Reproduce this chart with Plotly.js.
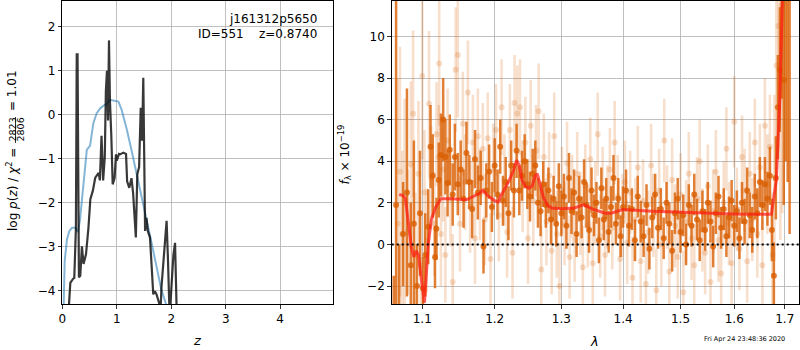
<!DOCTYPE html>
<html><head><meta charset="utf-8">
<script src="https://cdn.plot.ly/plotly-3.0.1.min.js"></script>
<style>html,body{margin:0;padding:0;background:#fff}#c{width:800px;height:350px}</style>
</head><body><div id="c"></div>
<script>
// ---- left panel: p(z) ----
const chiZ = [0.09,0.12,0.147,0.196,0.22,0.25,0.265,0.28,0.29,0.305,0.33,0.36,0.39,0.435,0.48,0.515,0.56,0.605,0.667,0.69,0.72,0.75,0.78,0.80,0.82,0.84,0.857,0.875,0.9,0.925,0.96,0.985,1.0,1.04,1.06,1.12,1.17,1.19,1.23,1.27,1.30,1.334,1.35,1.377,1.41,1.44,1.465,1.487,1.5,1.52,1.545,1.57,1.61,1.64,1.67,1.70,1.73,1.78,1.80,1.82,1.87,1.915,1.94,1.97,2.0,2.04,2.07,2.09,2.11];
const chiLogP = [-5.0,-4.3,-3.83,-3.74,-3.72,-2.58,1.36,1.36,-2.7,-3.7,-3.67,-3.0,-3.4,-3.18,-2.58,-1.93,-1.74,-1.44,-1.33,-1.5,-0.49,-1.5,-0.97,0.53,0.99,-0.14,1.68,0.3,-0.5,-1.59,-1.45,-0.91,-1.05,-0.9,-0.91,-0.87,-0.9,-1.52,-1.67,-1.45,-1.79,-2.65,-2.8,-1.36,-1.2,0.15,-0.6,0.83,-0.7,-2.65,-2.35,-2.65,-2.8,-3.47,-4.09,-4.02,-4.09,-4.3,-4.6,-3.94,-3.2,-2.42,-3.3,-4.6,-4.0,-3.2,-2.92,-3.8,-5.0];
const priorZ = [0.02,0.044,0.086,0.13,0.18,0.24,0.27,0.29,0.325,0.385,0.45,0.51,0.57,0.63,0.69,0.75,0.815,0.875,0.94,1.03,1.09,1.18,1.27,1.365,1.457,1.55,1.64,1.73,1.82,1.90,1.95];
const priorLogP = [-4.6,-3.33,-2.84,-2.65,-2.58,-2.58,-2.65,-2.66,-2.4,-1.65,-0.81,-0.71,-0.2,0.02,0.13,0.19,0.23,0.33,0.31,0.29,0.1,-0.32,-0.81,-1.34,-1.87,-2.4,-2.93,-3.46,-3.99,-4.3,-4.6];
const zTicks = [0,1,2,3,4];
const logpTicks = [-4,-3,-2,-1,0,1,2];

// ---- right panel: spectrum ----
const darkWave = [1.063,1.066,1.070,1.075,1.080,1.085,1.089,1.093,1.097,1.101,1.104,1.108,1.111,1.114,1.117,1.119,1.122,1.125,1.128,1.131,1.134,1.137,1.141,1.144,1.148,1.152,1.156,1.160,1.164,1.168,1.172,1.176,1.180,1.184,1.188,1.192,1.196,1.200,1.204,1.208,1.212,1.216,1.220,1.224,1.228,1.232,1.236,1.240,1.244,1.248,1.252,1.256,1.260,1.264,1.268,1.272,1.276,1.280,1.284,1.288,1.292,1.296,1.300,1.304,1.308,1.312,1.316,1.320,1.324,1.328,1.332,1.336,1.340,1.344,1.348,1.352,1.356,1.360,1.364,1.368,1.372,1.376,1.380,1.384,1.388,1.392,1.396,1.400,1.405,1.410,1.415,1.420,1.425,1.430,1.435,1.440,1.445,1.450,1.455,1.460,1.465,1.470,1.475,1.480,1.485,1.490,1.495,1.500,1.505,1.510,1.515,1.520,1.525,1.530,1.535,1.540,1.545,1.550,1.555,1.560,1.565,1.570,1.575,1.580,1.585,1.590,1.595,1.600,1.605,1.610,1.615,1.620,1.625,1.630,1.635,1.640,1.645,1.650,1.655,1.660,1.665,1.670,1.674,1.678,1.682,1.686,1.690,1.694,1.698,1.702,1.706,1.710];
const darkFlux = [-4,1.9,-3,0.5,2.5,-1.0,1.0,-2.0,1.5,-2.1,-0.5,0.85,4.7,3.3,-0.6,0.75,3.1,4.3,6.0,4.2,2.95,4.55,2.4,4.2,2.9,3.6,2.2,4.4,3.0,1.7,4.1,2.5,3.2,-0.1,2.6,3.5,1.8,3.8,2.4,4.7,2.1,3.0,1.5,3.8,2.6,4.5,2.6,3.3,4.0,2.9,2.3,3.4,3.8,2.0,1.6,2.9,1.9,2.6,1.2,2.2,1.0,2.8,1.5,2.3,0.9,3.2,1.6,2.5,0.5,2.2,1.3,3.0,1.9,0.7,2.6,1.4,2.0,0.2,2.7,1.2,2.2,0.6,1.8,3.2,1.0,2.2,0.4,1.8,2.6,0.9,1.7,0.2,2.3,1.1,0.4,1.9,-0.2,1.3,2.4,0.8,1.7,0.3,2.0,1.0,-0.3,1.5,2.2,0.6,1.4,0.0,1.9,0.9,2.4,1.2,0.2,1.6,0.7,2.0,1.1,-0.1,1.5,2.3,0.8,1.7,0.4,1.3,2.1,0.9,1.6,0.3,2.0,1.1,2.6,1.4,0.7,2.3,1.5,3.0,1.9,2.9,2.2,3.3,0.7,-1.5,3.2,6.6,8.4,12,7.9,12,13,13];
const darkErr = [2.5,15,3,2.5,5,3,4,2,3,1.5,2,1.8,2,2.0,1.5,1.5,1.8,2,2,1.8,1.6,1.7,1.5,1.6,1.5,1.4,1.4,1.5,1.3,1.4,1.4,1.3,1.3,1.3,1.3,1.3,1.2,1.3,1.2,1.3,1.2,1.2,1.3,1.2,1.3,1.3,1.2,1.2,1.3,1.2,1.2,1.2,1.2,1.2,1.2,1.1,1.1,1.1,1.2,1.1,1.1,1.1,1.1,1.1,1.1,1.2,1.1,1.1,1.1,1.1,1.0,1.1,1.1,1.1,1.1,1.0,1.0,1.1,1.0,1.0,1.0,1.0,1.0,1.1,1.0,1.0,1.0,1.0,1.0,1.0,1.0,1.0,1.0,1.0,1.0,1.0,1.0,1.0,1.0,1.0,1.0,1.0,1.0,1.0,1.0,1.0,1.0,1.0,1.0,1.0,1.0,1.0,1.0,1.0,1.0,1.0,1.0,1.0,1.0,1.0,1.0,1.0,1.0,1.0,1.0,1.0,1.0,1.0,1.0,1.0,1.0,1.1,1.1,1.1,1.1,1.1,1.2,1.2,1.2,1.3,1.3,1.4,1.5,1.6,2.0,2.5,3,5,6,8,10,12.5,10,11];

const lightWave = [1.068,1.071,1.074,1.077,1.081,1.085,1.088,1.091,1.095,1.098,1.100,1.103,1.106,1.109,1.112,1.116,1.119,1.122,1.1226,1.125,1.128,1.131,1.134,1.138,1.141,1.145,1.148,1.151,1.155,1.158,1.162,1.165,1.169,1.172,1.176,1.179,1.183,1.186,1.190,1.194,1.198,1.202,1.206,1.210,1.214,1.218,1.222,1.226,1.229,1.233,1.237,1.241,1.245,1.249,1.253,1.257,1.261,1.265,1.269,1.273,1.277,1.281,1.285,1.289,1.293,1.297,1.301,1.305,1.309,1.313,1.317,1.321,1.325,1.330,1.334,1.338,1.342,1.346,1.350,1.354,1.358,1.362,1.366,1.370,1.374,1.378,1.382,1.386,1.391,1.395,1.399,1.403,1.407,1.412,1.416,1.421,1.425,1.430,1.434,1.439,1.443,1.448,1.452,1.457,1.462,1.466,1.471,1.476,1.480,1.485,1.490,1.495,1.500,1.505,1.510,1.515,1.520,1.525,1.530,1.535,1.540,1.545,1.550,1.555,1.560,1.565,1.570,1.575,1.580,1.585,1.590,1.595,1.600,1.605,1.610,1.615,1.620,1.625,1.630,1.635,1.640,1.645,1.650,1.655,1.660,1.665,1.670,1.675,1.679,1.683,1.687,1.691,1.695];
const lightFlux = [1.0,3.5,0.5,2.0,0.6,3.84,6.28,-0.5,3.4,-1.0,8.1,2.5,0.2,6.76,3.2,1.0,5.3,4.2,8.7,0.5,3.6,-0.5,5.0,2.2,-1.8,8.4,9.1,1.0,5.8,3.0,7.3,1.8,4.9,0.3,5.2,2.4,4.6,1.2,5.1,-0.7,3.6,5.5,1.4,6.6,3.1,0.6,5.5,-0.4,6.8,6.3,6.6,2.8,4.9,0.3,5.7,2.1,4.5,6.4,-1.2,4.2,1.1,3.3,-0.3,5.2,0.5,-2.0,2.6,1.0,3.9,-0.6,2.3,0.2,3.4,1.5,-1.1,2.8,0.9,4.1,-0.9,2.0,5.3,0.4,2.7,-0.5,1.8,3.6,0.8,4.9,2.3,-0.7,1.4,3.0,0.1,2.5,-1.6,1.2,3.7,-0.8,2.1,-1.9,0.6,3.8,1.4,-2.2,2.6,0.0,5.0,1.8,-1.3,3.1,0.9,-0.6,2.4,-2.3,1.1,3.4,0.3,-1.0,2.2,4.0,0.7,-0.4,2.8,-1.8,1.6,3.5,0.2,-1.4,2.0,4.6,1.0,-0.9,5.9,1.7,-0.2,4.2,2.6,-0.8,3.4,1.2,4.9,0.5,3.7,-1.0,5.7,2.9,4.7,-0.5,3.2,8.6,10.5,8.2,11.5];
const lightErr = [7,6,4,5,3,4,4,3,3.5,2.5,4,3,2.5,3.5,2.5,2.5,2.5,2.5,3,2.5,2.5,2.3,2.5,2.3,2.3,3,3,2.3,2.5,2.3,2.5,2.2,2.3,2.2,2.3,2.2,2.2,2.2,2.2,2.2,2.2,2.2,2.2,2.3,2.2,2.2,2.2,2.2,2.3,2.3,2.3,2.2,2.2,2.2,2.2,2.2,2.2,2.3,2.1,2.1,2.1,2.1,2.1,2.1,2.1,2.1,2.1,2.0,2.0,2.0,2.0,2.0,2.0,2.0,2.0,2.0,2.0,2.0,2.0,2.0,2.0,2.0,2.0,2.0,2.0,2.0,2.0,2.0,2.0,2.0,2.0,2.0,2.0,2.0,2.0,2.0,2.0,2.0,2.0,2.0,2.0,2.0,2.0,2.0,2.0,2.0,2.0,2.0,2.0,2.0,2.0,2.0,2.0,2.0,2.0,2.0,2.0,2.0,2.0,2.0,2.0,2.0,2.0,2.0,2.0,2.0,2.0,2.0,2.0,2.0,2.0,2.0,2.2,2.0,2.0,2.0,2.0,2.0,2.0,2.0,2.1,2.1,2.1,2.2,2.3,2.4,2.5,3,4,5,6,8,10];

const modelWave = [1.070,1.075,1.078,1.082,1.086,1.089,1.092,1.095,1.098,1.101,1.103,1.105,1.108,1.112,1.118,1.125,1.14,1.16,1.17,1.178,1.183,1.19,1.2,1.205,1.21,1.22,1.228,1.232,1.236,1.24,1.245,1.25,1.255,1.26,1.263,1.267,1.272,1.278,1.285,1.3,1.32,1.335,1.34,1.35,1.37,1.38,1.39,1.4,1.45,1.5,1.55,1.6,1.65,1.673,1.683,1.69,1.696,1.70];
const modelFlux = [2.4,2.35,2.2,1.0,-0.2,-0.6,-0.3,-0.5,-1.5,-2.3,-2.8,-1.5,0.0,1.2,1.8,2.2,2.2,2.15,2.3,2.45,2.6,2.35,2.1,2.05,2.4,3.0,3.6,4.05,3.8,3.1,2.8,2.7,2.8,3.3,3.4,2.9,2.3,1.9,1.75,1.72,1.75,1.9,1.85,1.7,1.5,1.5,1.6,1.68,1.6,1.55,1.5,1.46,1.45,1.45,3.1,7.0,12.5,16];

const waveTicks = [1.1,1.2,1.3,1.4,1.5,1.6,1.7];
const fluxTicks = [-2,0,2,4,6,8,10];

const DARK = 'rgba(217,95,2,0.8)';
const LIGHT = 'rgba(217,95,2,0.2)';
const FONT = 'DejaVu Sans, sans-serif';

const traces = [
  {x: priorZ, y: priorLogP, type:'scatter', mode:'lines', line:{color:'rgba(31,119,180,0.55)', width:2}, xaxis:'x', yaxis:'y', hoverinfo:'skip'},
  {x: chiZ, y: chiLogP, type:'scatter', mode:'lines', line:{color:'rgba(0,0,0,0.78)', width:2.2}, xaxis:'x', yaxis:'y', hoverinfo:'skip'},
  {x: lightWave, y: lightFlux, type:'scatter', mode:'markers', marker:{color:LIGHT, size:6},
   error_y:{type:'data', array:lightErr, visible:true, thickness:2.6, width:0, color:LIGHT}, xaxis:'x2', yaxis:'y2', hoverinfo:'skip'},
  {x: darkWave, y: darkFlux, type:'scatter', mode:'markers', marker:{color:DARK, size:6},
   error_y:{type:'data', array:darkErr, visible:true, thickness:2.5, width:0, color:DARK}, xaxis:'x2', yaxis:'y2', hoverinfo:'skip'},
  {x: modelWave, y: modelFlux, type:'scatter', mode:'lines', line:{color:'rgba(255,25,20,0.7)', width:3}, xaxis:'x2', yaxis:'y2', hoverinfo:'skip'},
  {x: [1.0604, 1.73], y: [0, 0], type:'scatter', mode:'lines', line:{color:'#000', width:2, dash:'2px,3px'}, xaxis:'x2', yaxis:'y2', hoverinfo:'skip'}
];

const ax = {showline:true, mirror:true, linecolor:'#000', linewidth:1, ticks:'outside', ticklen:3.5, tickwidth:0.8, tickcolor:'#000',
  showgrid:true, gridcolor:'#b0b0b0', gridwidth:0.8, zeroline:false, tickfont:{family:FONT, size:12, color:'#000'}};
const W=800, H=350;
const px = v => v/W, py = v => 1 - v/H;
const ann = (text, x, y, o) => Object.assign({text, x:px(x), y:py(y), xref:'paper', yref:'paper', showarrow:false,
  xanchor:'center', yanchor:'middle', font:{family:FONT, size:12, color:'#000'}}, o||{});

const layout = {
  width:W, height:H, margin:{l:0,r:0,t:0,b:0}, showlegend:false, paper_bgcolor:'#fff', plot_bgcolor:'#fff',
  xaxis: Object.assign({}, ax, {domain:[px(62.3), px(333)], range:[0,4.97], tickvals:zTicks, anchor:'y'}),
  yaxis: Object.assign({}, ax, {domain:[py(304), py(1)], range:[-4.31,2.575], tickvals:logpTicks, anchor:'x'}),
  xaxis2: Object.assign({}, ax, {domain:[px(391.7), px(799.3)], type:'log', range:[Math.log10(1.0604), Math.log10(1.730)],
    tickvals:waveTicks, ticktext:waveTicks.map(v=>v.toFixed(1)), anchor:'y2'}),
  yaxis2: Object.assign({}, ax, {domain:[py(304), py(1)], range:[-2.86,11.70], tickvals:fluxTicks, anchor:'x2'}),
  annotations: [
    ann('j161312p5650', 319, 19, {xanchor:'right'}),
    ann('ID=551\u00a0\u00a0\u00a0\u00a0z=0.8740', 319, 34, {xanchor:'right'}),
    ann('<i>z</i>', 197, 340, {font:{family:FONT, size:13, color:'#000'}}),
    ann('<i>λ</i>', 594, 341, {font:{family:FONT, size:13, color:'#000'}}),
    ann('Fri Apr 24 23:48:36 2020', 744, 339, {font:{family:FONT, size:6.5, color:'#000'}}),
    ann('log\u00a0<i>p</i>(<i>z</i>)\u00a0/\u00a0<i>χ</i><sup>2</sup>\u00a0=', 12, 190, {textangle:-90}),
    ann('2823', 11.5, 130, {textangle:-90, font:{family:FONT, size:9.5, color:'#000'}}),
    ann('2806', 19.5, 130, {textangle:-90, font:{family:FONT, size:9.5, color:'#000'}}),
    ann('=\u00a01.01', 12, 91, {textangle:-90}),
    ann('<i>f</i><sub>λ</sub>\u00a0×\u00a010<sup>−19</sup>', 344, 154.5, {textangle:-90})
  ],
  shapes: [
    {type:'line', xref:'paper', yref:'paper', x0:px(15.5), x1:px(15.5), y0:py(117), y1:py(143), line:{color:'#000', width:0.8}}
  ]
};
Plotly.newPlot('c', traces, layout, {staticPlot:true, displayModeBar:false});
</script></body></html>
